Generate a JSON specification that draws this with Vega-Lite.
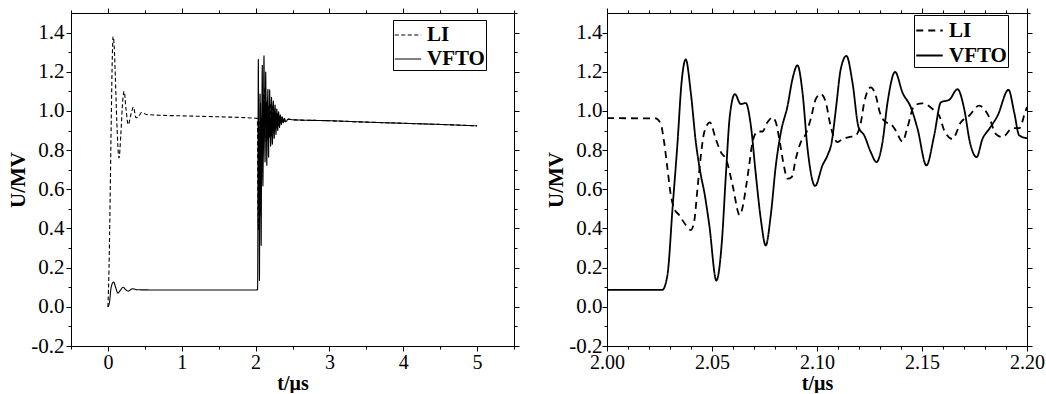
{
"$schema": "https://vega.github.io/schema/vega-lite/v6.json",
"background": "white",
"padding": {"left": 7, "top": 7, "right": 5, "bottom": 0},
"spacing": 25,
"config": {
  "view": {"stroke": null},
  "font": "Liberation Serif",
  "axis": {"labelFont": "Liberation Serif", "labelFontSize": 21, "labelColor": "black", "titleFont": "Liberation Serif", "titleFontSize": 21, "titleFontWeight": "bold", "titleColor": "black", "domainColor": "black", "domainWidth": 1, "tickColor": "black", "tickWidth": 1, "grid": false, "labelOverlap": false, "labelFlush": false, "labelPadding": 2, "titlePadding": 2},
  "legend": {"title": null, "orient": "none", "strokeColor": "black", "fillColor": "white", "padding": 1, "symbolType": "stroke", "symbolSize": 700, "symbolStrokeColor": "black", "labelFont": "Liberation Serif", "labelFontSize": 21, "labelFontWeight": "bold", "labelColor": "black", "labelOffset": 5, "rowPadding": 0}
},
"datasets": {"d": [
{"s":"LI","t":0,"u":0},{"s":"LI","t":0.015,"u":0.2},{"s":"LI","t":0.03,"u":0.55},{"s":"LI","t":0.045,"u":0.95},{"s":"LI","t":0.06,"u":1.28},{"s":"LI","t":0.07,"u":1.38},{"s":"LI","t":0.085,"u":1.33},{"s":"LI","t":0.1,"u":1.18},{"s":"LI","t":0.12,"u":0.95},{"s":"LI","t":0.15,"u":0.76},{"s":"LI","t":0.175,"u":0.88},{"s":"LI","t":0.2,"u":1.05},{"s":"LI","t":0.22,"u":1.1},{"s":"LI","t":0.245,"u":1.01},{"s":"LI","t":0.275,"u":0.93},{"s":"LI","t":0.31,"u":0.98},{"s":"LI","t":0.345,"u":1.02},{"s":"LI","t":0.38,"u":0.965},{"s":"LI","t":0.41,"u":0.97},{"s":"LI","t":0.46,"u":0.993},{"s":"LI","t":0.52,"u":0.982},{"s":"LI","t":0.7,"u":0.978},{"s":"LI","t":1.0,"u":0.975},{"s":"LI","t":1.5,"u":0.97},{"s":"LI","t":2.0,"u":0.963},
{"s":"LI","t":2.0232,"u":0.962},{"s":"LI","t":2.0256,"u":0.934},{"s":"LI","t":2.0272,"u":0.841},{"s":"LI","t":2.0288,"u":0.705},{"s":"LI","t":2.0304,"u":0.57},{"s":"LI","t":2.032,"u":0.502},{"s":"LI","t":2.0344,"u":0.468},{"s":"LI","t":2.0375,"u":0.418},{"s":"LI","t":2.0399,"u":0.392},{"s":"LI","t":2.0415,"u":0.435},{"s":"LI","t":2.0431,"u":0.604},{"s":"LI","t":2.0447,"u":0.773},{"s":"LI","t":2.0463,"u":0.891},{"s":"LI","t":2.049,"u":0.942},{"s":"LI","t":2.0518,"u":0.857},{"s":"LI","t":2.0542,"u":0.79},{"s":"LI","t":2.0569,"u":0.748},{"s":"LI","t":2.0598,"u":0.621},{"s":"LI","t":2.0632,"u":0.468},{"s":"LI","t":2.0648,"u":0.52},{"s":"LI","t":2.0661,"u":0.604},{"s":"LI","t":2.0677,"u":0.722},{"s":"LI","t":2.0693,"u":0.841},{"s":"LI","t":2.0717,"u":0.895},{"s":"LI","t":2.074,"u":0.895},{"s":"LI","t":2.0764,"u":0.942},{"s":"LI","t":2.0788,"u":0.967},{"s":"LI","t":2.0804,"u":0.942},{"s":"LI","t":2.0823,"u":0.841},{"s":"LI","t":2.0839,"u":0.739},{"s":"LI","t":2.086,"u":0.654},{"s":"LI","t":2.088,"u":0.663},{"s":"LI","t":2.0899,"u":0.756},{"s":"LI","t":2.0923,"u":0.841},{"s":"LI","t":2.0947,"u":0.883},{"s":"LI","t":2.097,"u":0.959},{"s":"LI","t":2.0994,"u":1.06},{"s":"LI","t":2.1018,"u":1.086},{"s":"LI","t":2.1042,"u":1.044},{"s":"LI","t":2.1061,"u":0.942},{"s":"LI","t":2.1077,"u":0.875},{"s":"LI","t":2.1098,"u":0.841},{"s":"LI","t":2.1121,"u":0.857},{"s":"LI","t":2.1153,"u":0.866},{"s":"LI","t":2.1185,"u":0.875},{"s":"LI","t":2.1209,"u":0.942},{"s":"LI","t":2.1225,"u":1.044},{"s":"LI","t":2.1256,"u":1.12},{"s":"LI","t":2.128,"u":1.078},{"s":"LI","t":2.1299,"u":0.993},{"s":"LI","t":2.1328,"u":0.942},{"s":"LI","t":2.1351,"u":0.934},{"s":"LI","t":2.1375,"u":0.9},{"s":"LI","t":2.1407,"u":0.844},{"s":"LI","t":2.1431,"u":0.917},{"s":"LI","t":2.1463,"u":1.027},{"s":"LI","t":2.1502,"u":1.039},{"s":"LI","t":2.155,"u":1.01},{"s":"LI","t":2.1582,"u":0.976},{"s":"LI","t":2.1606,"u":0.9},{"s":"LI","t":2.1645,"u":0.857},{"s":"LI","t":2.1685,"u":0.942},{"s":"LI","t":2.1725,"u":0.976},{"s":"LI","t":2.1772,"u":1.027},{"s":"LI","t":2.182,"u":0.968},{"s":"LI","t":2.1851,"u":0.883},{"s":"LI","t":2.1883,"u":0.866},{"s":"LI","t":2.1931,"u":0.912},{"s":"LI","t":2.1963,"u":0.912},{"s":"LI","t":2.1991,"u":0.993},{"s":"LI","t":2.2,"u":1.02},
{"s":"LI","t":2.204,"u":1.04},{"s":"LI","t":2.215,"u":0.87},{"s":"LI","t":2.228,"u":1.03},{"s":"LI","t":2.24,"u":0.89},{"s":"LI","t":2.252,"u":1.01},{"s":"LI","t":2.264,"u":0.9},{"s":"LI","t":2.276,"u":0.995},{"s":"LI","t":2.288,"u":0.915},{"s":"LI","t":2.3,"u":0.985},{"s":"LI","t":2.315,"u":0.925},{"s":"LI","t":2.33,"u":0.975},{"s":"LI","t":2.35,"u":0.935},{"s":"LI","t":2.37,"u":0.965},{"s":"LI","t":2.4,"u":0.945},{"s":"LI","t":2.45,"u":0.958},{"s":"LI","t":2.5,"u":0.955},{"s":"LI","t":3.0,"u":0.95},{"s":"LI","t":3.5,"u":0.943},{"s":"LI","t":4.0,"u":0.937},{"s":"LI","t":4.5,"u":0.931},{"s":"LI","t":5.0,"u":0.924},
{"s":"VFTO","t":0,"u":0},{"s":"VFTO","t":0.02,"u":0.02},{"s":"VFTO","t":0.04,"u":0.09},{"s":"VFTO","t":0.06,"u":0.12},{"s":"VFTO","t":0.077,"u":0.127},{"s":"VFTO","t":0.1,"u":0.105},{"s":"VFTO","t":0.135,"u":0.07},{"s":"VFTO","t":0.17,"u":0.085},{"s":"VFTO","t":0.205,"u":0.1},{"s":"VFTO","t":0.24,"u":0.088},{"s":"VFTO","t":0.275,"u":0.08},{"s":"VFTO","t":0.33,"u":0.092},{"s":"VFTO","t":0.4,"u":0.087},{"s":"VFTO","t":0.7,"u":0.086},{"s":"VFTO","t":1.2,"u":0.086},{"s":"VFTO","t":2.0,"u":0.086},
{"s":"VFTO","t":2.0264,"u":0.087},{"s":"VFTO","t":2.0288,"u":0.164},{"s":"VFTO","t":2.0312,"u":0.502},{"s":"VFTO","t":2.0336,"u":0.841},{"s":"VFTO","t":2.0355,"u":1.145},{"s":"VFTO","t":2.0375,"u":1.263},{"s":"VFTO","t":2.0399,"u":1.094},{"s":"VFTO","t":2.0423,"u":0.841},{"s":"VFTO","t":2.0447,"u":0.672},{"s":"VFTO","t":2.0463,"u":0.587},{"s":"VFTO","t":2.0487,"u":0.418},{"s":"VFTO","t":2.0521,"u":0.134},{"s":"VFTO","t":2.0547,"u":0.333},{"s":"VFTO","t":2.0566,"u":0.672},{"s":"VFTO","t":2.0585,"u":0.976},{"s":"VFTO","t":2.0609,"u":1.086},{"s":"VFTO","t":2.0637,"u":1.035},{"s":"VFTO","t":2.0661,"u":1.04},{"s":"VFTO","t":2.0685,"u":0.925},{"s":"VFTO","t":2.0709,"u":0.672},{"s":"VFTO","t":2.0732,"u":0.451},{"s":"VFTO","t":2.0756,"u":0.313},{"s":"VFTO","t":2.078,"u":0.469},{"s":"VFTO","t":2.0804,"u":0.722},{"s":"VFTO","t":2.0828,"u":0.891},{"s":"VFTO","t":2.086,"u":1.027},{"s":"VFTO","t":2.0883,"u":1.162},{"s":"VFTO","t":2.0907,"u":1.233},{"s":"VFTO","t":2.0931,"u":1.094},{"s":"VFTO","t":2.0955,"u":0.807},{"s":"VFTO","t":2.0991,"u":0.617},{"s":"VFTO","t":2.1026,"u":0.722},{"s":"VFTO","t":2.105,"u":0.773},{"s":"VFTO","t":2.107,"u":0.841},{"s":"VFTO","t":2.109,"u":1.01},{"s":"VFTO","t":2.1113,"u":1.213},{"s":"VFTO","t":2.114,"u":1.281},{"s":"VFTO","t":2.1169,"u":1.145},{"s":"VFTO","t":2.1198,"u":0.917},{"s":"VFTO","t":2.1225,"u":0.875},{"s":"VFTO","t":2.1256,"u":0.79},{"s":"VFTO","t":2.1283,"u":0.739},{"s":"VFTO","t":2.1312,"u":0.841},{"s":"VFTO","t":2.1336,"u":1.044},{"s":"VFTO","t":2.1372,"u":1.199},{"s":"VFTO","t":2.1407,"u":1.094},{"s":"VFTO","t":2.1447,"u":1.018},{"s":"VFTO","t":2.1479,"u":0.908},{"s":"VFTO","t":2.1521,"u":0.722},{"s":"VFTO","t":2.1558,"u":0.875},{"s":"VFTO","t":2.159,"u":1.044},{"s":"VFTO","t":2.163,"u":1.057},{"s":"VFTO","t":2.1669,"u":1.111},{"s":"VFTO","t":2.1701,"u":1.01},{"s":"VFTO","t":2.1728,"u":0.841},{"s":"VFTO","t":2.176,"u":0.764},{"s":"VFTO","t":2.1788,"u":0.857},{"s":"VFTO","t":2.182,"u":0.908},{"s":"VFTO","t":2.186,"u":0.976},{"s":"VFTO","t":2.1912,"u":1.108},{"s":"VFTO","t":2.1939,"u":0.993},{"s":"VFTO","t":2.1963,"u":0.875},{"s":"VFTO","t":2.2,"u":0.861},
{"s":"VFTO","t":2.204,"u":0.82},{"s":"VFTO","t":2.215,"u":1.07},{"s":"VFTO","t":2.228,"u":0.83},{"s":"VFTO","t":2.24,"u":1.05},{"s":"VFTO","t":2.252,"u":0.86},{"s":"VFTO","t":2.264,"u":1.03},{"s":"VFTO","t":2.276,"u":0.88},{"s":"VFTO","t":2.288,"u":1.01},{"s":"VFTO","t":2.3,"u":0.9},{"s":"VFTO","t":2.312,"u":0.995},{"s":"VFTO","t":2.324,"u":0.915},{"s":"VFTO","t":2.336,"u":0.98},{"s":"VFTO","t":2.348,"u":0.93},{"s":"VFTO","t":2.36,"u":0.97},{"s":"VFTO","t":2.375,"u":0.94},{"s":"VFTO","t":2.39,"u":0.962},{"s":"VFTO","t":2.41,"u":0.945},{"s":"VFTO","t":2.44,"u":0.958},{"s":"VFTO","t":2.5,"u":0.955},{"s":"VFTO","t":3.0,"u":0.95},{"s":"VFTO","t":3.5,"u":0.943},{"s":"VFTO","t":4.0,"u":0.937},{"s":"VFTO","t":4.5,"u":0.931},{"s":"VFTO","t":5.0,"u":0.924}
]},
"resolve": {"scale": {"strokeDash": "independent"}, "legend": {"strokeDash": "independent"}},
"hconcat": [
{
  "width": 443, "height": 333,
  "data": {"name": "d"},
  "layer": [
    {"mark": {"type": "line", "color": "black", "strokeWidth": 1.1, "interpolate": "monotone"},
     "encoding": {
       "x": {"field": "t", "type": "quantitative", "scale": {"domain": [-0.5, 5.5], "nice": false, "zero": false},
             "axis": {"orient": "bottom", "title": "t/μs", "labelFontSize": 20, "titleFontSize": 20, "labelPadding": 1, "titlePadding": 1, "values": [-0.5,0,0.5,1,1.5,2,2.5,3,3.5,4,4.5,5,5.5],
                      "tickSize": {"condition": {"test": "abs(datum.value - round(datum.value)) < 0.001", "value": 5}, "value": 3},
                      "labelExpr": "abs(datum.value - round(datum.value)) < 0.001 ? format(datum.value, 'd') : ''"}},
       "y": {"field": "u", "type": "quantitative", "scale": {"domain": [-0.2, 1.5], "nice": false, "zero": false},
             "axis": {"orient": "left", "title": "U/MV", "values": [-0.2,-0.1,0,0.1,0.2,0.3,0.4,0.5,0.6,0.7,0.8,0.9,1,1.1,1.2,1.3,1.4],
                      "tickSize": {"condition": {"test": "abs(round(datum.value*10)) % 2 == 0", "value": 5}, "value": 3},
                      "labelExpr": "abs(round(datum.value*10)) % 2 == 0 ? replace(format(datum.value, '.1f'), '\u2212', '-') : ''"}},
       "strokeDash": {"field": "s", "type": "nominal", "scale": {"domain": ["LI", "VFTO"], "range": [[4, 2.5], [1, 0]]},
             "legend": {"legendX": 322, "legendY": 7, "symbolStrokeWidth": 1.1}}
     }},
    {"mark": {"type": "line", "strokeOpacity": 0},
     "encoding": {
       "x": {"field": "t", "type": "quantitative",
             "axis": {"orient": "top", "title": null, "labels": false, "values": [-0.5,0,0.5,1,1.5,2,2.5,3,3.5,4,4.5,5,5.5],
                      "tickSize": {"condition": {"test": "abs(datum.value - round(datum.value)) < 0.001", "value": 5}, "value": 3}}},
       "y": {"field": "u", "type": "quantitative",
             "axis": {"orient": "right", "title": null, "labels": false, "values": [-0.2,-0.1,0,0.1,0.2,0.3,0.4,0.5,0.6,0.7,0.8,0.9,1,1.1,1.2,1.3,1.4,1.5],
                      "tickSize": {"condition": {"test": "abs(round(datum.value*10)) % 2 == 0", "value": 5}, "value": 3}}},
       "detail": {"field": "s", "type": "nominal"}
     }}
  ],
  "resolve": {"axis": {"x": "independent", "y": "independent"}}
},
{
  "width": 420, "height": 333,
  "data": {"name": "d"},
  "transform": [{"filter": "datum.t >= 2 && datum.t <= 2.2"}],
  "layer": [
    {"mark": {"type": "line", "color": "black", "strokeWidth": 1.8, "interpolate": "monotone", "clip": true},
     "encoding": {
       "x": {"field": "t", "type": "quantitative", "scale": {"domain": [2.0, 2.2], "nice": false, "zero": false},
             "axis": {"orient": "bottom", "title": "t/μs", "labelFontSize": 20, "titleFontSize": 20, "labelPadding": 1, "titlePadding": 1, "values": [2,2.01,2.02,2.03,2.04,2.05,2.06,2.07,2.08,2.09,2.1,2.11,2.12,2.13,2.14,2.15,2.16,2.17,2.18,2.19,2.2],
                      "tickSize": {"condition": {"test": "round(datum.value*100) % 5 == 0", "value": 5}, "value": 3},
                      "labelExpr": "round(datum.value*100) % 5 == 0 ? format(datum.value, '.2f') : ''"}},
       "y": {"field": "u", "type": "quantitative", "scale": {"domain": [-0.2, 1.5], "nice": false, "zero": false},
             "axis": {"orient": "left", "title": "U/MV", "labelPadding": 0, "values": [-0.2,-0.1,0,0.1,0.2,0.3,0.4,0.5,0.6,0.7,0.8,0.9,1,1.1,1.2,1.3,1.4],
                      "tickSize": {"condition": {"test": "abs(round(datum.value*10)) % 2 == 0", "value": 5}, "value": 3},
                      "labelExpr": "abs(round(datum.value*10)) % 2 == 0 ? replace(format(datum.value, '.1f'), '\u2212', '-') : ''"}},
       "strokeDash": {"field": "s", "type": "nominal", "scale": {"domain": ["LI", "VFTO"], "range": [[7, 5], [1, 0]]},
             "legend": {"legendX": 307, "legendY": 2, "symbolStrokeWidth": 1.8}}
     }},
    {"mark": {"type": "line", "strokeOpacity": 0, "clip": true},
     "encoding": {
       "x": {"field": "t", "type": "quantitative",
             "axis": {"orient": "top", "title": null, "labels": false, "values": [2,2.01,2.02,2.03,2.04,2.05,2.06,2.07,2.08,2.09,2.1,2.11,2.12,2.13,2.14,2.15,2.16,2.17,2.18,2.19,2.2],
                      "tickSize": {"condition": {"test": "round(datum.value*100) % 5 == 0", "value": 5}, "value": 3}}},
       "y": {"field": "u", "type": "quantitative",
             "axis": {"orient": "right", "title": null, "labels": false, "values": [-0.2,-0.1,0,0.1,0.2,0.3,0.4,0.5,0.6,0.7,0.8,0.9,1,1.1,1.2,1.3,1.4,1.5],
                      "tickSize": {"condition": {"test": "abs(round(datum.value*10)) % 2 == 0", "value": 5}, "value": 3}}},
       "detail": {"field": "s", "type": "nominal"}
     }}
  ],
  "resolve": {"axis": {"x": "independent", "y": "independent"}}
}
]
}
